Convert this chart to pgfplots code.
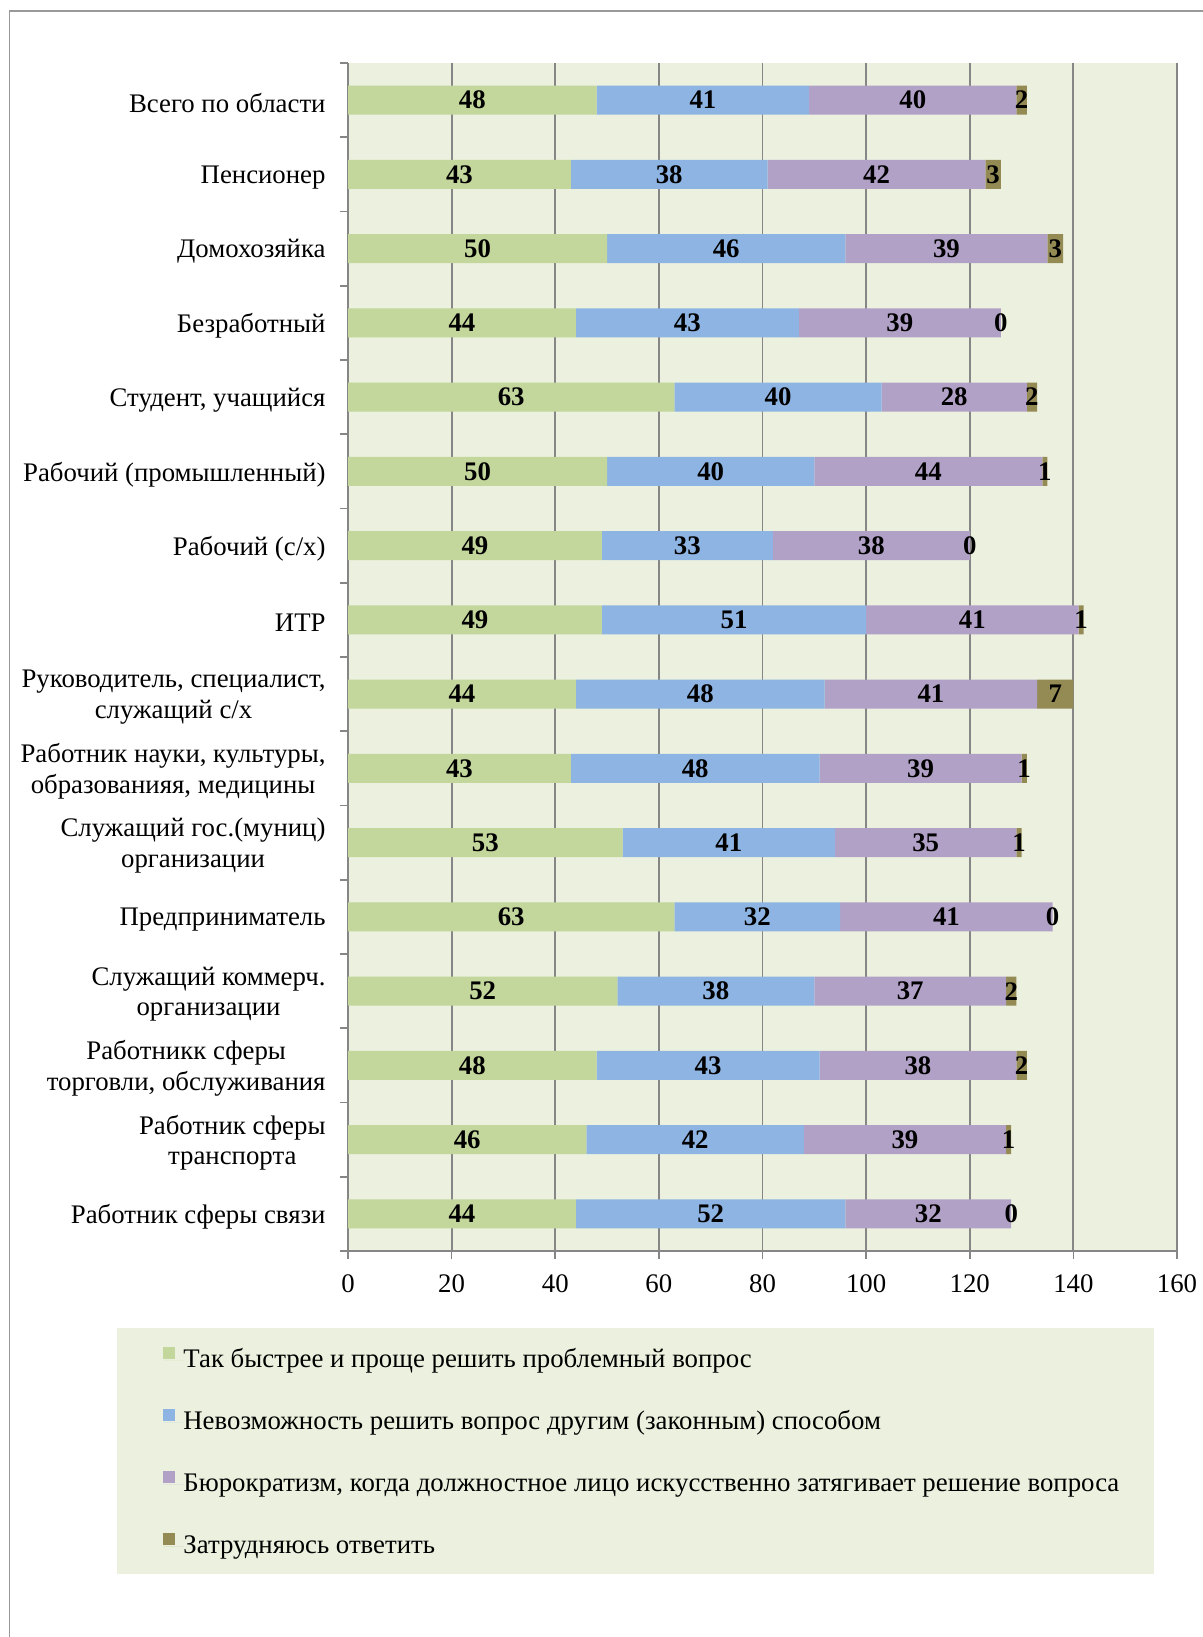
\documentclass[border=0pt]{standalone}
\usepackage{fontspec}
\setmainfont{Liberation Serif}
\usepackage{pgfplots}
\usepackage{pgfplotstable}
\pgfplotsset{compat=1.18}
\definecolor{bgc}{RGB}{235,241,222}
\definecolor{c1}{RGB}{195,214,155}
\definecolor{c2}{RGB}{141,180,226}
\definecolor{c3}{RGB}{178,161,199}
\definecolor{c4}{RGB}{148,138,84}
\definecolor{gridc}{RGB}{134,134,134}
\newcommand\cf{\fontsize{13.4}{15.2}\selectfont}
\pgfplotstableread{
y a b c d
15 48 41 40 2
14 43 38 42 3
13 50 46 39 3
12 44 43 39 0
11 63 40 28 2
10 50 40 44 1
9 49 33 38 0
8 49 51 41 1
7 44 48 41 7
6 43 48 39 1
5 53 41 35 1
4 63 32 41 0
3 52 38 37 2
2 48 43 38 2
1 46 42 39 1
0 44 52 32 0
}\datatable
\pgfplotsset{geom/.style={
  at={(174pt,-625.5pt)}, anchor=south west,
  scale only axis, width=414.5pt, height=594pt,
  xmin=0, xmax=160, ymin=-0.5, ymax=15.5}}
\begin{document}
\begin{tikzpicture}
\path[use as bounding box] (0,0) rectangle (601.5pt,-818.5pt);
\draw[gray!80, line width=0.8pt] (4.7pt,-818.5pt) -- (4.7pt,-5.4pt) -- (601.5pt,-5.4pt);
\fill[bgc] (58.5pt,-664pt) rectangle (577pt,-787pt);
\begin{axis}[
  geom,
  xbar stacked, bar width=0.39,
  xtick={0,20,...,160},
  ytick={0,...,15},
  yticklabels={
    Работник сферы связи,
    {Работник сферы\\транспорта},
    {Работникк сферы\\торговли, обслуживания},
    {Служащий коммерч.\\организации},
    Предприниматель,
    {Служащий гос.(муниц)\\организации},
    {Работник науки, культуры,\\образованияя, медицины},
    {Руководитель, специалист,\\служащий с/х},
    ИТР,
    Рабочий (с/х),
    Рабочий (промышленный),
    {Студент, учащийся},
    Безработный,
    Домохозяйка,
    Пенсионер,
    Всего по области},
  minor ytick={-0.5,0.5,...,15.5},
  axis lines=left, axis line style={-, draw=gridc, line width=0.9pt},
  xmajorgrids, grid style={draw=gridc, line width=0.9pt},
  axis background/.style={fill=bgc},
  tick align=outside,
  major tick length=4.2pt, minor tick length=4.2pt,
  major y tick style={draw=none},
  minor y tick style={draw=gridc, line width=0.8pt},
  major x tick style={draw=gridc, line width=0.8pt},
  /pgf/number format/assume math mode=true,
  xticklabel style={font=\cf, yshift=-4pt},
  yticklabel style={font=\cf, align=center, xshift=-3.5pt, yshift=-1.5pt},
  legend cell align=left,
  legend style={at={(axis description cs:-0.22316,-0.0808)}, anchor=north west, draw=none, fill=none, inner sep=0pt, row sep=18pt,
    nodes={inner sep=0pt, text height=10pt, text depth=3pt, font=\cf}},
  legend image code/.code={\fill[#1] (0pt,0.5pt) rectangle (6pt,6.5pt); \path (0pt,0pt) -- (10pt,0pt);},
]
\addplot[fill=c1, draw=none] table[x=a, y=y] \datatable;
\addplot[fill=c2, draw=none] table[x=b, y=y] \datatable;
\addplot[fill=c3, draw=none] table[x=c, y=y] \datatable;
\addplot[fill=c4, draw=none] table[x=d, y=y] \datatable;
\legend{Так быстрее и проще решить проблемный вопрос,
  Невозможность решить вопрос другим (законным) способом,
  {Бюрократизм, когда должностное лицо искусственно затягивает решение вопроса},
  Затрудняюсь ответить}
\end{axis}
\begin{axis}[
  geom, hide axis,
  /pgf/number format/assume math mode=true,
  point meta=explicit,
  nodes near coords={\pgfmathprintnumber{\pgfplotspointmeta}},
  every node near coord/.append style={font=\cf\bfseries, text=black, anchor=center, inner sep=0pt},
  lbl/.style={only marks, mark=*, mark size=0pt, mark options={draw=none, fill=none}},
]
\addplot[lbl] table[x expr=\thisrow{a}/2, y=y, meta=a] \datatable;
\addplot[lbl] table[x expr=\thisrow{a}+\thisrow{b}/2, y=y, meta=b] \datatable;
\addplot[lbl] table[x expr=\thisrow{a}+\thisrow{b}+\thisrow{c}/2, y=y, meta=c] \datatable;
\addplot[lbl] table[x expr=\thisrow{a}+\thisrow{b}+\thisrow{c}+\thisrow{d}/2, y=y, meta=d] \datatable;
\end{axis}
\end{tikzpicture}
\end{document}
